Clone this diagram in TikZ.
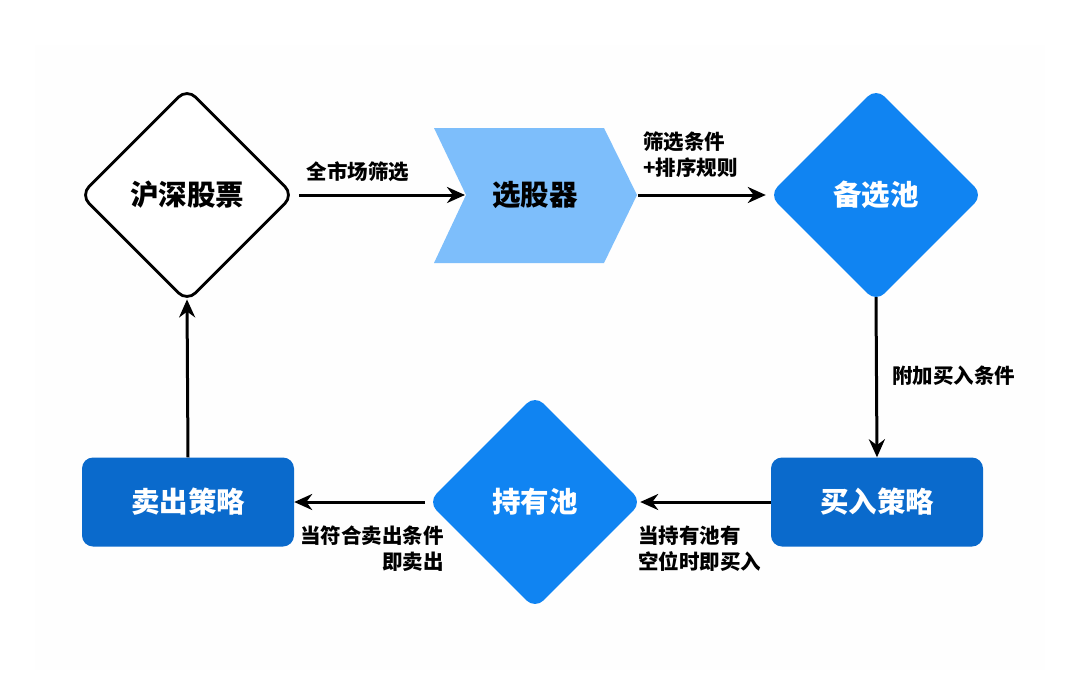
\documentclass[tikz,border=0pt]{standalone}
\usepackage{fontspec}
\newfontfamily\cjk{Noto Sans CJK SC}
\usetikzlibrary{shapes.geometric,arrows.meta}
\definecolor{lightblue}{RGB}{125,190,251}
\definecolor{midblue}{RGB}{16,132,242}
\definecolor{darkblue}{RGB}{10,106,204}
\definecolor{bgpaper}{RGB}{254,254,254}
\begin{document}
\begin{tikzpicture}[x=1pt,y=-1pt,
  dia/.style={diamond,aspect=1,minimum width=214pt,minimum height=214pt,inner sep=0pt,rounded corners=12pt,font=\cjk\bfseries\fontsize{28.5}{32}\selectfont},
  blackdia/.style={dia,draw=black,line width=2.8pt,fill=white,text=black},
  bluedia/.style={dia,fill=midblue,text=white},
  strat/.style={rectangle,rounded corners=11pt,fill=darkblue,text=white,minimum width=212pt,minimum height=89pt,inner sep=0pt,font=\cjk\bfseries\fontsize{28.5}{32}\selectfont},
  lbl/.style={font=\cjk\bfseries\fontsize{20.5}{26}\selectfont,inner sep=0pt},
  conn/.style={line width=3pt,-{Stealth[length=18pt,width=16pt]}}]
\useasboundingbox (0,0) rectangle (1080,699);
\fill[bgpaper] (35,45) rectangle (1045,670);
% nodes
\node[blackdia] (hs) at (187,195) {沪深股票};
\fill[lightblue] (434,128) -- (604,128) -- (637,195) -- (604,263) -- (434,263) -- (466,195) -- cycle;
\node[font=\cjk\bfseries\fontsize{28.5}{32}\selectfont,inner sep=0pt] (sel) at (535,195) {选股器};
\coordinate (selin) at (465,195);
\coordinate (selout) at (638,195);
\node[bluedia] (bx) at (876,195) {备选池};
\node[strat] (mr) at (877,502) {买入策略};
\node[bluedia] (cy) at (535,502) {持有池};
\node[strat] (mc) at (188,502) {卖出策略};
% connectors
\draw[conn] ([xshift=4pt]hs.east) -- (selin);
\draw[conn] (selout) -- ([xshift=-3pt]bx.west);
\draw[conn] ([yshift=5pt]bx.south) -- (mr.north);
\draw[conn] (mr.west) -- ([xshift=-2pt]cy.east);
\draw[conn] ([xshift=-3pt]cy.west) -- (mc.east);
\draw[conn] (mc.north) -- ([yshift=4pt]hs.south);
% labels
\node[lbl] (l1) at (358,172) {全市场筛选};
\node[lbl,anchor=west,align=left] (l2) at (643,155) {筛选条件\\+排序规则};
\node[lbl,anchor=west] (l3) at (892,376) {附加买入条件};
\node[lbl,anchor=west,align=left] (l4) at (638,549) {当持有池有\\空位时即买入};
\node[lbl,anchor=east,align=right] (l5) at (444,549) {当符合卖出条件\\即卖出};
\end{tikzpicture}
\end{document}
